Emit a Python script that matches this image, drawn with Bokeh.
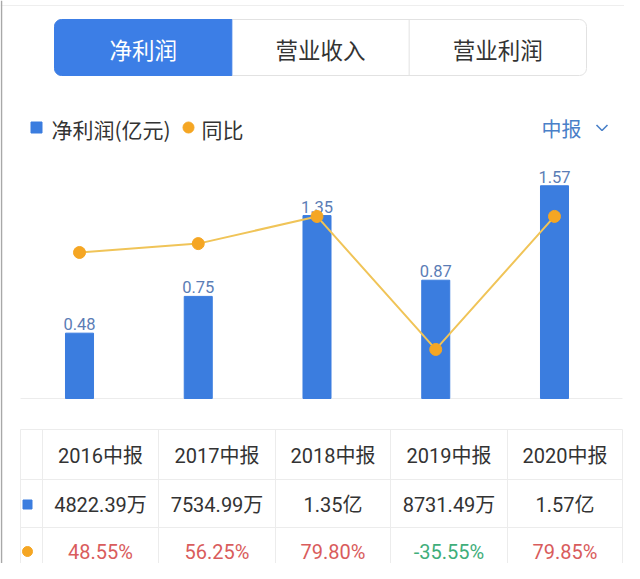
import numpy as np
from bokeh.plotting import figure
from bokeh.models import Range1d, BoxAnnotation
from bokeh.core.properties import value
from bokeh.embed import file_html
from bokeh.resources import INLINE

# ---------------- data ----------------
periods = ["2016中报", "2017中报", "2018中报", "2019中报", "2020中报"]
net_profit = [0.482239, 0.753499, 1.35, 0.873149, 1.57]          # 亿元
net_profit_text = ["4822.39万", "7534.99万", "1.35亿", "8731.49万", "1.57亿"]
yoy = [48.55, 56.25, 79.80, -35.55, 79.85]                        # %
tabs = ["净利润", "营业收入", "营业利润"]
legend_labels = ["净利润(亿元)", "同比"]
period_selector = "中报"

# ---------------- styles ----------------
BLUE = "#3b7ddf"
TAB_BLUE = "#3c7ee6"
LINE_C = "#f0c458"
DOT_C = "#f5a623"
LABEL_C = "#5b7db6"
TEXT_C = "#333333"
GRID_C = "#ececec"
RED = "#d95c5c"
GREEN = "#3fae7a"
CJK = value("Noto Sans CJK SC")
MIX = value("Roboto, Noto Sans CJK SC")

W, H = 624, 563
p = figure(width=W, height=H, output_backend="svg", toolbar_location=None,
           x_range=Range1d(-0.6653, 4.5895), y_range=Range1d(-1.2177, 2.9373),
           x_axis_type=None, y_axis_type=None, min_border=0,
           outline_line_color=None, background_fill_color="white")
p.grid.visible = False
# pixel helper ranges (y grows downward) and the right-hand % scale
p.extra_x_ranges = {"px": Range1d(0, W)}
p.extra_y_ranges = {"px": Range1d(H, 0), "yoy": Range1d(-221.2, 267.1)}

idx = np.arange(len(periods))

# ---------------- frame lines of the screenshot ----------------
p.segment(x0=[0], x1=[W], y0=[5], y1=[5], x_range_name="px", y_range_name="px",
          line_color="#eeeeee", line_width=1)
p.segment(x0=[1], x1=[1], y0=[0], y1=[H], x_range_name="px", y_range_name="px",
          line_color="#a8a8a8", line_width=1.5)

# ---------------- tab bar ----------------
tab_left, tab_right, tab_top, tab_bot = 54, 586, 19, 75
tab_w = (tab_right - tab_left) / len(tabs)
p.add_layout(BoxAnnotation(left=tab_left, right=tab_right, top=tab_top, bottom=tab_bot,
                           x_range_name="px", y_range_name="px",
                           fill_color="white", fill_alpha=1, line_color="#e2e2e2",
                           line_alpha=1, line_width=1, border_radius=7, level="underlay"))
p.add_layout(BoxAnnotation(left=tab_left, right=tab_left + tab_w, top=tab_top, bottom=tab_bot,
                           x_range_name="px", y_range_name="px",
                           fill_color=TAB_BLUE, fill_alpha=1, line_color=TAB_BLUE,
                           line_alpha=1, border_radius=(7, 0, 0, 7), level="underlay"))
div_x = [tab_left + tab_w * k for k in range(2, len(tabs))]
p.segment(x0=div_x, x1=div_x, y0=[tab_top] * len(div_x), y1=[tab_bot] * len(div_x),
          x_range_name="px", y_range_name="px", line_color="#e2e2e2", line_width=1)
tab_cx = [tab_left + tab_w * (k + 0.5) for k in range(len(tabs))]
p.text(x=tab_cx, y=[48] * len(tabs), text=tabs, x_range_name="px", y_range_name="px",
       text_align="center", text_baseline="middle", text_font=CJK,
       text_font_size="22.5px", text_color=["white", TEXT_C, TEXT_C])

# ---------------- legend ----------------
p.scatter(x=[36], y=[127], marker="square", size=11, color=BLUE,
          x_range_name="px", y_range_name="px")
p.text(x=[51], y=[128], text=[legend_labels[0]], x_range_name="px", y_range_name="px",
       text_align="left", text_baseline="middle", text_font=CJK,
       text_font_size="21px", text_color=TEXT_C)
p.scatter(x=[188], y=[127], marker="circle", size=11, color=DOT_C,
          x_range_name="px", y_range_name="px")
p.text(x=[201], y=[128], text=[legend_labels[1]], x_range_name="px", y_range_name="px",
       text_align="left", text_baseline="middle", text_font=CJK,
       text_font_size="21px", text_color=TEXT_C)
p.text(x=[541], y=[128], text=[period_selector], x_range_name="px", y_range_name="px",
       text_align="left", text_baseline="middle", text_font=CJK,
       text_font_size="20px", text_color="#4a80c8")
p.line(x=[596, 601.5, 607], y=[124.5, 130, 124.5], x_range_name="px", y_range_name="px",
       line_color="#4a80c8", line_width=1.6)

# ---------------- chart ----------------
p.segment(x0=[20], x1=[622], y0=[0], y1=[0], x_range_name="px",
          line_color=GRID_C, line_width=1)
p.vbar(x=idx, top=net_profit, bottom=0, width=0.236, color=BLUE)
p.text(x=idx, y=net_profit, text=[f"{v:.2f}" for v in net_profit], y_offset=-3,
       text_align="center", text_baseline="bottom", text_font=value("Roboto"),
       text_font_size="16.5px", text_color=LABEL_C)
p.line(x=idx, y=yoy, y_range_name="yoy", line_color=LINE_C, line_width=2)
p.scatter(x=idx, y=yoy, y_range_name="yoy", marker="circle", size=12,
          color=DOT_C)

# ---------------- table ----------------
col_edges = [20, 42, 158, 275, 390, 507, 622]
row_edges = [429, 479, 527]
p.segment(x0=col_edges, x1=col_edges, y0=[row_edges[0]] * len(col_edges),
          y1=[H + 10] * len(col_edges),
          x_range_name="px", y_range_name="px", line_color=GRID_C, line_width=1)
p.segment(x0=[20] * len(row_edges), x1=[622] * len(row_edges), y0=row_edges, y1=row_edges,
          x_range_name="px", y_range_name="px", line_color=GRID_C, line_width=1)
col_cx = [(col_edges[k] + col_edges[k + 1]) / 2 for k in range(1, len(col_edges) - 1)]
row_cy = [row_edges[0] + 26, row_edges[1] + 25, row_edges[2] + 24]

p.text(x=col_cx, y=[row_cy[0]] * len(periods), text=periods,
       x_range_name="px", y_range_name="px", text_align="center", text_baseline="middle",
       text_font=MIX, text_font_size="20px", text_color=TEXT_C)
p.text(x=col_cx, y=[row_cy[1]] * len(periods), text=net_profit_text,
       x_range_name="px", y_range_name="px", text_align="center", text_baseline="middle",
       text_font=MIX, text_font_size="20px", text_color=TEXT_C)
p.text(x=col_cx, y=[row_cy[2]] * len(periods), text=[f"{v:.2f}%" for v in yoy],
       x_range_name="px", y_range_name="px", text_align="center", text_baseline="middle",
       text_font=value("Roboto"), text_font_size="20px",
       text_color=[RED if v >= 0 else GREEN for v in yoy])
marker_x = (col_edges[0] + col_edges[1]) / 2 - 4
p.scatter(x=[marker_x], y=[row_cy[1]], marker="square", size=9, color=BLUE,
          x_range_name="px", y_range_name="px")
p.scatter(x=[marker_x], y=[row_cy[2]], marker="circle", size=10, color=DOT_C,
          x_range_name="px", y_range_name="px")

open("out.html", "w").write(file_html(p, INLINE))
